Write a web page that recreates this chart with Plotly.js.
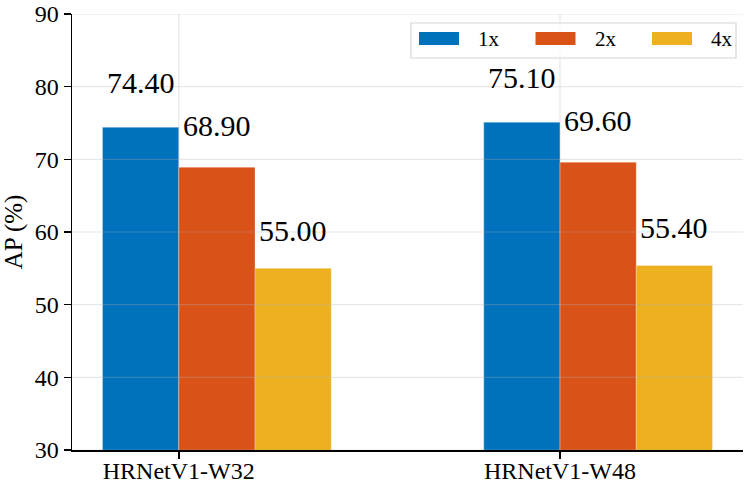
<!DOCTYPE html>
<html>
<head>
<meta charset="utf-8">
<script src="https://cdn.plot.ly/plotly-3.0.1.min.js"></script>
<style>
  html, body { margin: 0; padding: 0; background: #fff; }
  #chart { width: 747px; height: 483px; }
</style>
</head>
<body>
<div id="chart"></div>
<script>
// data
var models = ['HRNetV1-W32', 'HRNetV1-W48'];
var seriesNames = ['1x', '2x', '4x'];
var ap1x = [74.4, 75.1];
var ap2x = [68.9, 69.6];
var ap4x = [55.0, 55.4];
var yTicks = [30, 40, 50, 60, 70, 80, 90];

var seriesValues = [ap1x, ap2x, ap4x];
var colors = ['#0072BD', '#D95319', '#EDB120'];
var barW = 0.2;
var labelLift = [26, 23, 19];   // px between bar top and label box
var font = 'Liberation Serif';

var xPos = models.map(function (m, i) { return i; });

var data = [];
var annotations = [];
var shapes = [];

seriesValues.forEach(function (vals, s) {
  var off = (s - 1) * barW;
  data.push({
    type: 'bar',
    name: seriesNames[s],
    x: xPos,
    y: vals,
    width: barW,
    offset: off,
    marker: { color: colors[s], line: { width: 0.6, color: 'rgba(255,255,255,0.45)' } },
    hoverinfo: 'y'
  });
  vals.forEach(function (v, i) {
    annotations.push({
      x: xPos[i] + off + barW / 2,
      y: v,
      xref: 'x', yref: 'y',
      text: v.toFixed(2),
      showarrow: false,
      yanchor: 'bottom',
      yshift: labelLift[s],
      font: { family: font, size: 30, color: '#000' }
    });
  });
});

// grid lines drawn over the bars, like the original
yTicks.forEach(function (t) {
  shapes.push({
    type: 'line', xref: 'paper', yref: 'y', x0: 0, x1: 1, y0: t, y1: t,
    line: { color: 'rgba(176,176,176,0.3)', width: 1.2 }, layer: 'above'
  });
});
xPos.forEach(function (p) {
  shapes.push({
    type: 'line', xref: 'x', yref: 'paper', x0: p, x1: p, y0: 0, y1: 1,
    line: { color: 'rgba(176,176,176,0.3)', width: 1.2 }, layer: 'above'
  });
});

// legend box (paper coords), drawn by hand to get wide swatches
var W = 671, H = 436, L = 72, T = 14;
function px(x) { return (x - L) / W; }
function py(y) { return (T + H - y) / H; }
shapes.push({
  type: 'rect', xref: 'paper', yref: 'paper',
  x0: px(411), x1: px(736), y0: py(58), y1: py(23),
  fillcolor: 'rgba(255,255,255,0.8)',
  line: { color: '#d6d6d6', width: 1.2 }, layer: 'above'
});
seriesNames.forEach(function (n, s) {
  var sx = 419 + s * 116.5;
  shapes.push({
    type: 'rect', xref: 'paper', yref: 'paper',
    x0: px(sx), x1: px(sx + 40), y0: py(45), y1: py(32),
    fillcolor: colors[s], line: { width: 0 }, layer: 'above'
  });
  annotations.push({
    xref: 'paper', yref: 'paper',
    x: px(sx + 57), y: py(39),
    xanchor: 'left', yanchor: 'middle',
    text: n, showarrow: false,
    font: { family: font, size: 21, color: '#000' }
  });
});

var layout = {
  width: 747,
  height: 483,
  margin: { l: L, r: 747 - L - W, t: T, b: 483 - T - H },
  paper_bgcolor: '#fff',
  plot_bgcolor: '#fff',
  barmode: 'overlay',
  showlegend: false,
  font: { family: font, color: '#000' },
  xaxis: {
    range: [-0.28, 1.48],
    tickmode: 'array',
    tickvals: xPos,
    ticktext: models,
    ticks: 'outside',
    ticklen: 7,
    tickwidth: 1.5,
    tickcolor: '#000',
    ticklabelstandoff: -8,
    showgrid: false,
    zeroline: false,
    showline: true,
    linecolor: '#000',
    linewidth: 1.5,
    tickfont: { family: font, size: 24, color: '#000' }
  },
  yaxis: {
    range: [30, 90],
    tickmode: 'array',
    tickvals: yTicks,
    ticks: 'outside',
    ticklen: 7,
    tickwidth: 1.5,
    tickcolor: '#000',
    showgrid: false,
    zeroline: false,
    showline: true,
    linecolor: '#000',
    linewidth: 1.5,
    tickfont: { family: font, size: 24, color: '#000' },
    title: { text: 'AP (%)', standoff: 10, font: { family: font, size: 25, color: '#000' } }
  },
  shapes: shapes,
  annotations: annotations
};

Plotly.newPlot('chart', data, layout, { displayModeBar: false, staticPlot: true });
</script>
</body>
</html>
